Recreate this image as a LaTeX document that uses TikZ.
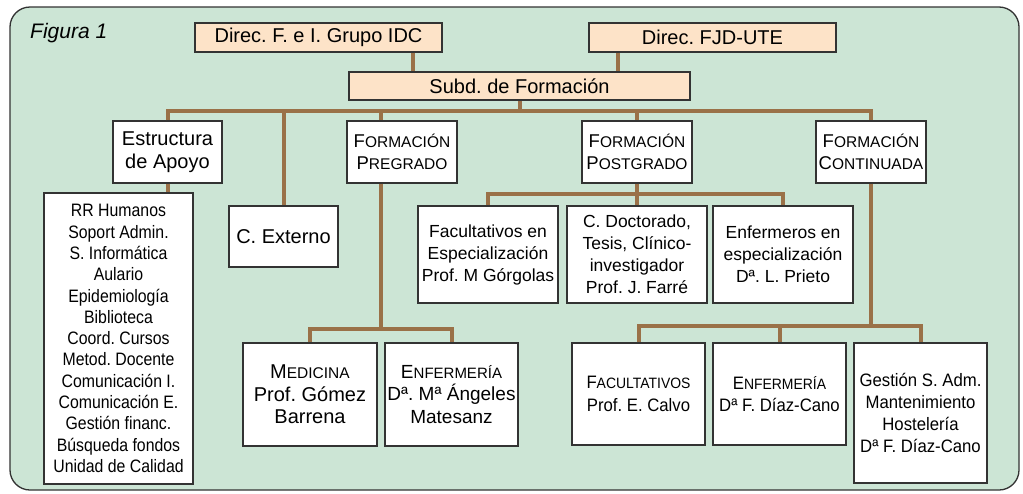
\documentclass[tikz,border=0pt]{standalone}
\usepackage{fontspec}
\setmainfont{Liberation Sans}
\newfontfamily\narrowfont[FakeStretch=0.88]{Liberation Sans}
\newfontfamily\midfont[FakeStretch=0.93]{Liberation Sans}
\usepackage{xcolor}
\definecolor{bggreen}{HTML}{CCE5D5}
\definecolor{peach}{HTML}{FDE3C8}
\definecolor{linkbrown}{HTML}{9A7148}
\definecolor{edgegray}{HTML}{333333}
\frenchspacing

% fake small caps: big first letter, smaller rest
\newcommand{\fsc}[3][15.5]{#2{\fontsize{#1}{#1}\selectfont #3}}

\begin{document}
\begin{tikzpicture}[
        x=1pt, y=-1pt,
        inner sep=0pt,
        align=center,
        box/.style={draw=edgegray, line width=1.3pt, fill=white},
        headbox/.style={box, fill=peach, font=\fontsize{20}{23}\selectfont},
        unitbox/.style={box, font=\fontsize{20}{23}\selectfont, minimum width=110pt, minimum height=62pt},
        subbox/.style={box, font=\fontsize{17.5}{22}\selectfont, minimum width=140pt, minimum height=97pt},
        leafbox/.style={box, font=\midfont\fontsize{18}{22.3}\selectfont, minimum width=133pt, minimum height=102pt},
        link/.style={draw=linkbrown, line width=4pt}]

    % FRAME
    \path[use as bounding box] (0,0) rectangle (1023,493);
    \draw[draw=edgegray, line width=1.3pt, fill=bggreen, rounded corners=20pt] (10,7) rectangle (1019,490);
    \node[anchor=base west, font=\itshape\fontsize{21}{21}\selectfont] (fig) at (30,38) {Figura 1};

    % NODES
    % direction
    \node[headbox, minimum width=247pt, minimum height=29pt] (idc) at (318.5,37.5) {Direc. F. e I. Grupo IDC};
    \node[headbox, minimum width=247pt, minimum height=29pt] (fjd) at (712.5,37.5) {Direc. FJD-UTE};
    \node[headbox, minimum width=341pt, minimum height=28pt] (subd) at (519.5,86) {Subd. de Formación};
    % second row
    \node[unitbox, minimum width=109pt] (estr) at (167.5,152) {Estructura\\de Apoyo};
    \node[unitbox, font=\fontsize{18.5}{22}\selectfont] (preg) at (402,152) {\fsc{F}{ORMACIÓN}\\\fsc{P}{REGRADO}};
    \node[unitbox, font=\fontsize{18.5}{22}\selectfont] (post) at (637,152) {\fsc{F}{ORMACIÓN}\\\fsc{P}{OSTGRADO}};
    \node[unitbox, font=\fontsize{18.5}{22}\selectfont] (cont) at (871,152) {\fsc{F}{ORMACIÓN}\\\fsc{C}{ONTINUADA}};
    % support
    \node[box, font=\narrowfont\fontsize{18}{21.3}\selectfont, minimum width=149pt, minimum height=291pt] (list) at (118.5,338.5)
        {RR Humanos\\Soport Admin.\\S. Informática\\Aulario\\Epidemiología\\Biblioteca\\Coord. Cursos\\Metod. Docente\\Comunicación I.\\Comunicación E.\\Gestión financ.\\Búsqueda fondos\\Unidad de Calidad};
    \node[unitbox, minimum width=109pt, minimum height=61pt] (cext) at (283.5,236.5) {C. Externo};
    % postgrado
    \node[subbox] (fesp) at (488,254.5) {Facultativos en\\Especialización\\Prof. M Górgolas};
    \node[subbox] (doct) at (637,254.5) {C. Doctorado,\\Tesis, Clínico-\\investigador\\Prof. J. Farré};
    \node[subbox] (enfe) at (783,254.5) {Enfermeros en\\especialización\\Dª. L. Prieto};
    % pregrado
    \node[box, font=\fontsize{20}{22.5}\selectfont, minimum width=134pt, minimum height=103pt] (med) at (310,394.5) {\fsc{M}{EDICINA}\\Prof. Gómez\\Barrena};
    \node[box, font=\fontsize{19}{22.5}\selectfont, minimum width=133pt, minimum height=103pt] (enfp) at (451.5,394.5) {\fsc[15]{E}{NFERMERÍA}\\Dª. Mª Ángeles\\Matesanz};
    % continuada
    \node[leafbox] (fac) at (638.5,394) {\fsc[15]{F}{ACULTATIVOS}\\Prof. E. Calvo};
    \node[leafbox] (enfc) at (779.5,394) {\fsc[15]{E}{NFERMERÍA}\\Dª F. Díaz-Cano};
    \node[leafbox, minimum height=140pt] (gest) at (920.5,413) {Gestión S. Adm.\\Mantenimiento\\Hostelería\\Dª F. Díaz-Cano};

    % LINKS
    \draw[link] (idc.south) ++(94.5,0) coordinate (idcdrop) -- (idcdrop |- subd.north);
    \draw[link] (fjd.south) ++(-94.5,0) coordinate (fjddrop) -- (fjddrop |- subd.north);
    \draw[link] (subd.south) -- ++(0,10) coordinate (bus);
    \draw[link] (estr.north) |- (bus) -| (cont.north);
    \draw[link] (bus -| cext.north) -- (cext.north);
    \draw[link] (bus -| post.north) -- (post.north);
    \draw[link] (preg.north) ++(-21,0) coordinate (pregtop) -- (pregtop |- bus);
    \draw[link] (estr.south) -- (estr.south |- list.north);
    % pregrado
    \draw[link] (preg.south) ++(-21,0) coordinate (pregdrop) -- ++(0,145) coordinate (pregbus);
    \draw[link] (med.north) |- (pregbus) -| (enfp.north);
    % postgrado
    \draw[link] (post.south) -- ++(0,10) coordinate (postbus);
    \draw[link] (fesp.north) |- (postbus) -| (enfe.north);
    \draw[link] (postbus) -- (doct.north);
    % continuada
    \draw[link] (cont.south) -- ++(0,142) coordinate (contbus);
    \draw[link] (fac.north) |- (contbus) -| (gest.north);
    \draw[link] (contbus -| enfc.north) -- (enfc.north);
\end{tikzpicture}
\end{document}
